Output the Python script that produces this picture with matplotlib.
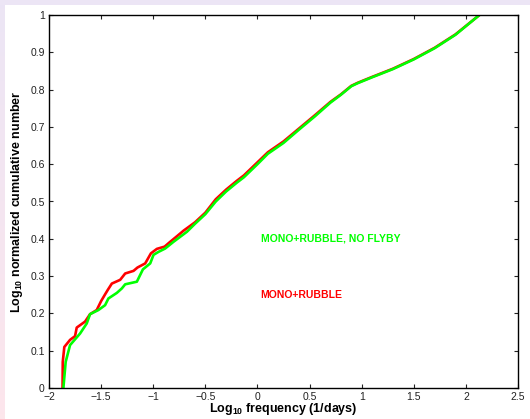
import matplotlib
matplotlib.use("Agg")
import matplotlib.pyplot as plt
import numpy as np
from matplotlib.patches import Rectangle

# Data
red_x = [-1.87, -1.868, -1.853, -1.798, -1.75, -1.734, -1.654, -1.606, -1.542, -1.5, -1.462,
         -1.436, -1.397, -1.317, -1.269, -1.189, -1.151, -1.077, -1.022, -0.965, -0.891, -0.837,
         -0.772, -0.708, -0.6, -0.5, -0.4, -0.3, -0.2, -0.13, 0.0, 0.1, 0.25, 0.4, 0.55, 0.7,
         0.8, 0.9, 0.96, 1.1, 1.3, 1.5, 1.7, 1.9, 2.13, 2.2]
red_y = [0, 0.07, 0.11, 0.129, 0.139, 0.162, 0.178, 0.198, 0.209, 0.233, 0.251, 0.263, 0.28,
         0.29, 0.307, 0.314, 0.323, 0.334, 0.361, 0.373, 0.379, 0.392, 0.407, 0.422, 0.444, 0.470,
         0.506, 0.532, 0.555, 0.570, 0.605, 0.632, 0.661, 0.696, 0.731, 0.767, 0.787, 0.81, 0.818,
         0.834, 0.856, 0.882, 0.912, 0.948, 1.0, 1.015]
green_x = [-1.862, -1.84, -1.798, -1.702, -1.638, -1.606, -1.526, -1.462, -1.43, -1.349, -1.301,
           -1.269, -1.157, -1.099, -1.029, -0.997, -0.949, -0.885, -0.805, -0.676, -0.6, -0.5,
           -0.4, -0.3, -0.2, -0.13, 0.0, 0.1, 0.25, 0.4, 0.55, 0.7, 0.8, 0.9, 0.96, 1.1, 1.3,
           1.5, 1.7, 1.9, 2.13, 2.2]
green_y = [0, 0.07, 0.115, 0.146, 0.173, 0.198, 0.209, 0.222, 0.24, 0.255, 0.267, 0.278, 0.285,
           0.318, 0.334, 0.357, 0.365, 0.374, 0.392, 0.419, 0.44, 0.466, 0.5, 0.527, 0.55, 0.565,
           0.6, 0.628, 0.657, 0.693, 0.728, 0.765, 0.786, 0.809, 0.817, 0.833, 0.855, 0.881,
           0.911, 0.947, 1.0, 1.015]
label_green = "MONO+RUBBLE, NO FLYBY"
label_red = "MONO+RUBBLE"
xticks = [-2, -1.5, -1, -0.5, 0, 0.5, 1, 1.5, 2, 2.5]
xticklabels = ["\u22122", "\u22121.5", "\u22121", "\u22120.5", "0", "0.5", "1", "1.5", "2", "2.5"]
yticks = [0, 0.1, 0.2, 0.3, 0.4, 0.5, 0.6, 0.7, 0.8, 0.9, 1]
yticklabels = ["0", "0.1", "0.2", "0.3", "0.4", "0.5", "0.6", "0.7", "0.8", "0.9", "1"]

plt.rcParams['font.family'] = ['Liberation Sans', 'DejaVu Sans']
plt.rcParams['mathtext.fontset'] = 'custom'
plt.rcParams['mathtext.rm'] = 'Liberation Sans:bold'
plt.rcParams['mathtext.bf'] = 'Liberation Sans:bold'
plt.rcParams['mathtext.default'] = 'bf'

W, H = 530, 419
fig = plt.figure(figsize=(W / 100, H / 100), dpi=100, facecolor='white')

# decorative border strips
bg = fig.add_axes([0, 0, 1, 1])
bg.set_axis_off()
bg.set_xlim(0, W)
bg.set_ylim(0, H)
bg.add_patch(Rectangle((0, H - 5), W, 5, color='#ECE5F5', lw=0))
grad = np.linspace(0, 1, 200).reshape(-1, 1)
top_c = np.array([0.925, 0.898, 0.961])
bot_c = np.array([0.992, 0.902, 0.925])
img = top_c[None, None, :] * (1 - grad[:, :, None]) + bot_c[None, None, :] * grad[:, :, None]
bg.imshow(img, extent=(0, 5, 0, H - 5), aspect='auto', origin='upper')
bg.set_xlim(0, W)
bg.set_ylim(0, H)

ax = fig.add_axes([49 / W, (H - 388) / H, (518 - 49) / W, (388 - 15) / H])
ax.plot(red_x, red_y, color='#FF0000', lw=1.9, solid_joinstyle='round')
ax.plot(green_x, green_y, color='#00FF00', lw=1.9, solid_joinstyle='round')

ax.text(0.03, 0.40, label_green, color='#00FF00', fontsize=7.5, fontweight='bold', va='center')
ax.text(0.03, 0.249, label_red, color='#FF0000', fontsize=7.5, fontweight='bold', va='center')

ax.set_xlim(-2, 2.5)
ax.set_ylim(0, 1)
ax.set_xticks(xticks)
ax.set_xticklabels(xticklabels)
ax.set_yticks(yticks)
ax.set_yticklabels(yticklabels)
ax.tick_params(direction='in', top=True, right=True, labelsize=7.5, length=3, width=0.8,
               colors='#222222')
ax.tick_params(axis='x', pad=3)
ax.tick_params(axis='y', pad=3)
for s in ax.spines.values():
    s.set_linewidth(1.0)
    s.set_color('black')

ax.set_xlabel("Log$_{10}$ frequency (1/days)", fontsize=9, fontweight='bold', labelpad=-1)
ax.set_ylabel("Log$_{10}$ normalized cumulative number", fontsize=9, fontweight='bold', labelpad=4)

fig.savefig("out.png", dpi=100, facecolor='white')
